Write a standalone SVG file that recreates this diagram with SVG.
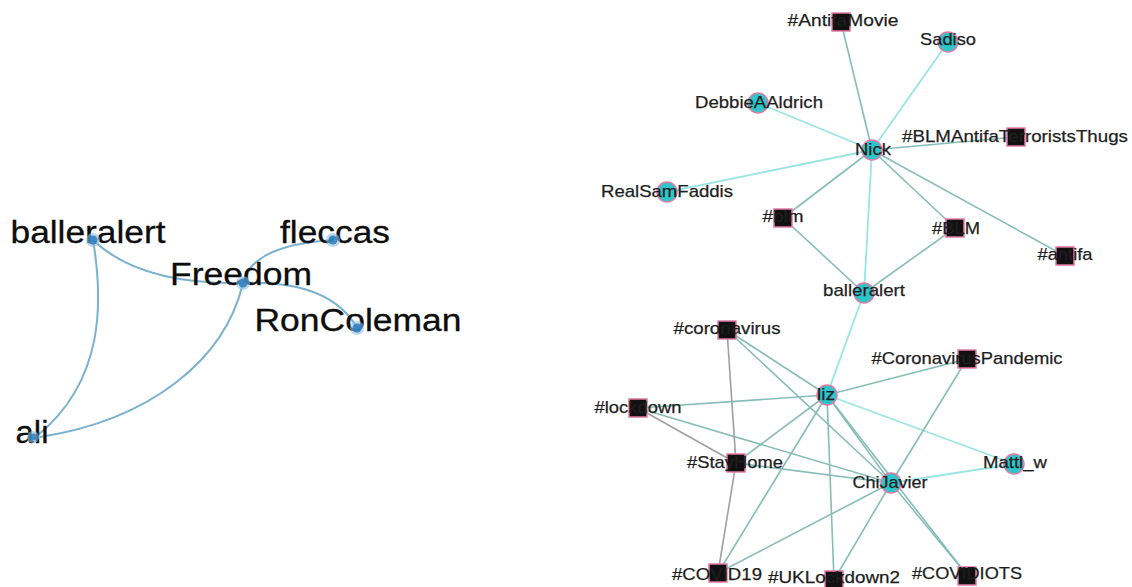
<svg xmlns="http://www.w3.org/2000/svg" width="1132" height="587" viewBox="0 0 1132 587">
  <style>
    .bg { fill: #ffffff; }
    .ledge { fill: none; stroke: #79b1cf; stroke-width: 2; }
    .lhalo { fill: #8ec0e0; opacity: 0.6; }
    .ldot { fill: #2b7cc0; opacity: 0.85; }
    .ltext { font-family: "Liberation Sans", Arial, sans-serif; font-size: 31px; fill: #0d0d0d; text-anchor: middle; stroke: #0d0d0d; stroke-width: 0.3; }
    .uu { stroke: #9ae4e4; stroke-width: 1.8; }
    .uh { stroke: #86bdb9; stroke-width: 1.6; }
    .hh { stroke: #a0a0a0; stroke-width: 1.6; }
    .user { fill: #2ec6ca; stroke: #e27aa2; stroke-width: 1.5; }
    .tag { fill: #111111; stroke: #e27aa2; stroke-width: 1.5; }
    .rtext { font-family: "Liberation Sans", Arial, sans-serif; font-size: 17px; fill: #1e1e1e; text-anchor: middle; stroke: #1e1e1e; stroke-width: 0.25; }
  </style>
  <rect class="bg" x="0" y="0" width="1132" height="587"/>

  <!-- Left network: curved edges -->
  <g id="left-edges">
    <path class="ledge" d="M93,240 Q140,285 243,283"/>
    <path class="ledge" d="M93,240 C103,300 105,380 38,435"/>
    <path class="ledge" d="M243,283 C225,360 150,420 40,437"/>
    <path class="ledge" d="M243,283 Q252,245 333,240"/>
    <path class="ledge" d="M243,283 Q330,280 357,328"/>
  </g>

  <g id="l-balleralert">
    <text class="ltext" x="88" y="243" textLength="155" lengthAdjust="spacingAndGlyphs">balleralert</text>
    <circle class="lhalo" cx="93" cy="240" r="7"/><circle class="ldot" cx="93" cy="240" r="4.5"/>
  </g>
  <g id="l-fleccas">
    <text class="ltext" x="335" y="243" textLength="110" lengthAdjust="spacingAndGlyphs">fleccas</text>
    <circle class="lhalo" cx="333" cy="240" r="7"/><circle class="ldot" cx="333" cy="240" r="4.5"/>
  </g>
  <g id="l-freedom">
    <text class="ltext" x="241" y="285" textLength="142" lengthAdjust="spacingAndGlyphs">Freedom</text>
    <circle class="lhalo" cx="243" cy="283" r="7"/><circle class="ldot" cx="243" cy="283" r="4.5"/>
  </g>
  <g id="l-roncoleman">
    <text class="ltext" x="358" y="331" textLength="207" lengthAdjust="spacingAndGlyphs">RonColeman</text>
    <circle class="lhalo" cx="357" cy="328" r="7"/><circle class="ldot" cx="357" cy="328" r="4.5"/>
  </g>
  <g id="l-ali">
    <text class="ltext" x="32" y="443" textLength="33" lengthAdjust="spacingAndGlyphs">ali</text>
    <circle class="lhalo" cx="33" cy="437" r="6"/><circle class="ldot" cx="33" cy="437" r="3.5"/>
  </g>

  <!-- Right network: straight edges -->
  <g id="right-edges">
    <!-- user to user -->
    <line class="uu" x1="872" y1="150" x2="948" y2="42"/>
    <line class="uu" x1="872" y1="150" x2="758" y2="103"/>
    <line class="uu" x1="872" y1="150" x2="667" y2="192"/>
    <line class="uu" x1="872" y1="150" x2="864" y2="293"/>
    <line class="uu" x1="864" y1="293" x2="827" y2="395"/>
    <line class="uu" x1="827" y1="395" x2="1014" y2="464"/>
    <line class="uu" x1="891" y1="483" x2="1014" y2="464"/>
    <!-- user to hashtag -->
    <line class="uh" x1="872" y1="150" x2="841" y2="22"/>
    <line class="uh" x1="872" y1="150" x2="1016" y2="137"/>
    <line class="uh" x1="872" y1="150" x2="783" y2="218"/>
    <line class="uh" x1="872" y1="150" x2="955" y2="228"/>
    <line class="uh" x1="872" y1="150" x2="1065" y2="256"/>
    <line class="uh" x1="864" y1="293" x2="783" y2="218"/>
    <line class="uh" x1="864" y1="293" x2="955" y2="228"/>
    <line class="uh" x1="827" y1="395" x2="727" y2="330"/>
    <line class="uh" x1="827" y1="395" x2="967" y2="359"/>
    <line class="uh" x1="827" y1="395" x2="638" y2="408"/>
    <line class="uh" x1="827" y1="395" x2="736" y2="463"/>
    <line class="uh" x1="827" y1="395" x2="718" y2="573"/>
    <line class="uh" x1="827" y1="395" x2="834" y2="580"/>
    <line class="uh" x1="827" y1="395" x2="967" y2="575"/>
    <line class="uh" x1="827" y1="395" x2="891" y2="483"/>
    <line class="uh" x1="891" y1="483" x2="727" y2="330"/>
    <line class="uh" x1="891" y1="483" x2="638" y2="408"/>
    <line class="uh" x1="891" y1="483" x2="736" y2="463"/>
    <line class="uh" x1="891" y1="483" x2="718" y2="573"/>
    <line class="uh" x1="891" y1="483" x2="834" y2="580"/>
    <line class="uh" x1="891" y1="483" x2="967" y2="575"/>
    <line class="uh" x1="891" y1="483" x2="967" y2="359"/>
    <!-- hashtag to hashtag -->
    <line class="hh" x1="727" y1="330" x2="736" y2="463"/>
    <line class="hh" x1="638" y1="408" x2="736" y2="463"/>
    <line class="hh" x1="736" y1="463" x2="718" y2="573"/>
  </g>

  <g id="n-antifamovie">
    <rect class="tag" x="832" y="13" width="18" height="18"/>
    <text class="rtext" x="843" y="26" textLength="111" lengthAdjust="spacingAndGlyphs">#AntifaMovie</text>
  </g>
  <g id="n-sadiso">
    <circle class="user" cx="948" cy="42" r="10"/>
    <text class="rtext" x="948" y="45" textLength="56" lengthAdjust="spacingAndGlyphs">Sadiso</text>
  </g>
  <g id="n-debbieaaldrich">
    <circle class="user" cx="758" cy="103" r="10"/>
    <text class="rtext" x="759" y="108" textLength="128" lengthAdjust="spacingAndGlyphs">DebbieAAldrich</text>
  </g>
  <g id="n-nick">
    <circle class="user" cx="872" cy="150" r="10"/>
    <text class="rtext" x="873" y="155" textLength="36" lengthAdjust="spacingAndGlyphs">Nick</text>
  </g>
  <g id="n-blmantifaterroriststhugs">
    <rect class="tag" x="1007" y="128" width="18" height="18"/>
    <text class="rtext" x="1015" y="142" textLength="226" lengthAdjust="spacingAndGlyphs">#BLMAntifaTerroristsThugs</text>
  </g>
  <g id="n-realsamfaddis">
    <circle class="user" cx="667" cy="192" r="10"/>
    <text class="rtext" x="667" y="197" textLength="132" lengthAdjust="spacingAndGlyphs">RealSamFaddis</text>
  </g>
  <g id="n-blm-lower">
    <rect class="tag" x="774" y="209" width="18" height="18"/>
    <text class="rtext" x="783" y="222" textLength="41" lengthAdjust="spacingAndGlyphs">#blm</text>
  </g>
  <g id="n-blm-upper">
    <rect class="tag" x="946" y="219" width="18" height="18"/>
    <text class="rtext" x="956" y="234" textLength="48" lengthAdjust="spacingAndGlyphs">#BLM</text>
  </g>
  <g id="n-antifa">
    <rect class="tag" x="1056" y="247" width="18" height="18"/>
    <text class="rtext" x="1065" y="260" textLength="55" lengthAdjust="spacingAndGlyphs">#antifa</text>
  </g>
  <g id="n-balleralert">
    <circle class="user" cx="864" cy="293" r="10"/>
    <text class="rtext" x="864" y="296" textLength="82" lengthAdjust="spacingAndGlyphs">balleralert</text>
  </g>
  <g id="n-coronavirus">
    <rect class="tag" x="718" y="321" width="18" height="18"/>
    <text class="rtext" x="727" y="334" textLength="107" lengthAdjust="spacingAndGlyphs">#coronavirus</text>
  </g>
  <g id="n-coronaviruspandemic">
    <rect class="tag" x="958" y="350" width="18" height="18"/>
    <text class="rtext" x="967" y="364" textLength="191" lengthAdjust="spacingAndGlyphs">#CoronavirusPandemic</text>
  </g>
  <g id="n-liz">
    <circle class="user" cx="827" cy="395" r="10"/>
    <text class="rtext" x="826" y="400" textLength="18" lengthAdjust="spacingAndGlyphs">liz</text>
  </g>
  <g id="n-lockdown">
    <rect class="tag" x="629" y="399" width="18" height="18"/>
    <text class="rtext" x="638" y="413" textLength="87" lengthAdjust="spacingAndGlyphs">#lockdown</text>
  </g>
  <g id="n-stayhome">
    <rect class="tag" x="727" y="454" width="18" height="18"/>
    <text class="rtext" x="735" y="468" textLength="96" lengthAdjust="spacingAndGlyphs">#StayHome</text>
  </g>
  <g id="n-chijavier">
    <circle class="user" cx="891" cy="483" r="10"/>
    <text class="rtext" x="890" y="488" textLength="75" lengthAdjust="spacingAndGlyphs">ChiJavier</text>
  </g>
  <g id="n-mattl_w">
    <circle class="user" cx="1014" cy="464" r="10"/>
    <text class="rtext" x="1015" y="468" textLength="64" lengthAdjust="spacingAndGlyphs">Mattl_w</text>
  </g>
  <g id="n-covid19">
    <rect class="tag" x="709" y="564" width="18" height="18"/>
    <text class="rtext" x="717" y="580" textLength="90" lengthAdjust="spacingAndGlyphs">#COVID19</text>
  </g>
  <g id="n-uklockdown2">
    <rect class="tag" x="825" y="571" width="18" height="18"/>
    <text class="rtext" x="834" y="583" textLength="132" lengthAdjust="spacingAndGlyphs">#UKLockdown2</text>
  </g>
  <g id="n-covidiots">
    <rect class="tag" x="958" y="567" width="18" height="18"/>
    <text class="rtext" x="967" y="579" textLength="110" lengthAdjust="spacingAndGlyphs">#COVIDIOTS</text>
  </g>
</svg>
